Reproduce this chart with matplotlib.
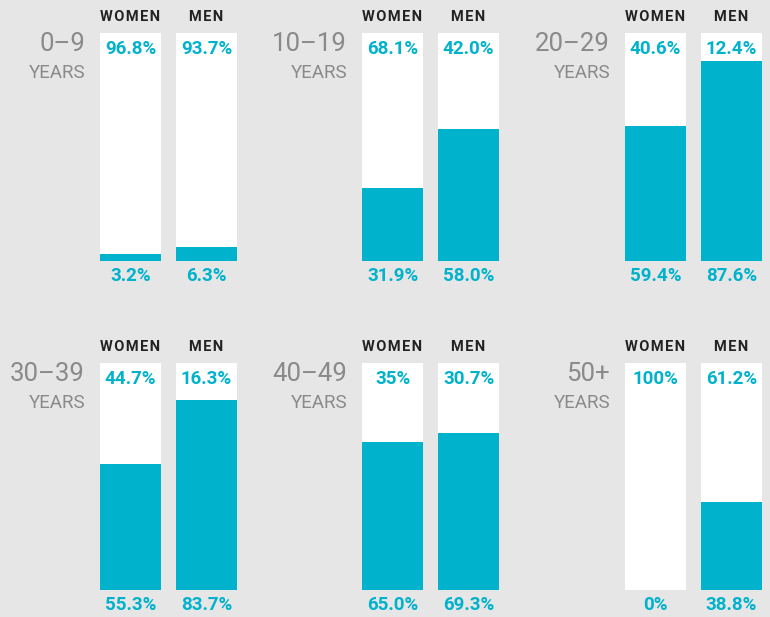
import matplotlib.pyplot as plt

# age groups and share of each group (bottom, teal part) for women and men
ages = ['0–9', '10–19', '20–29', '30–39', '40–49', '50+']
women_share = [3.2, 31.9, 59.4, 55.3, 65.0, 0]
men_share = [6.3, 58.0, 87.6, 83.7, 69.3, 38.8]
women_top = ['96.8%', '68.1%', '40.6%', '44.7%', '35%', '100%']
women_bottom = ['3.2%', '31.9%', '59.4%', '55.3%', '65.0%', '0%']
men_top = ['93.7%', '42.0%', '12.4%', '16.3%', '30.7%', '61.2%']
men_bottom = ['6.3%', '58.0%', '87.6%', '83.7%', '69.3%', '38.8%']
headers = ['WOMEN', 'MEN']

teal = '#00b2cc'
bg = '#e6e6e6'
W, H = 770, 617

plt.rcParams['font.family'] = ['Roboto', 'DejaVu Sans']

fig = plt.figure(figsize=(W / 100, H / 100), dpi=100, facecolor=bg)

col_left = [100, 362, 625]
row_top = [33, 363]
row_bottom = [261, 590]
bar_w = 61 / 76
xl = 30.5 / 76

for i, age in enumerate(ages):
    r, c = divmod(i, 3)
    top, bot = row_top[r], row_bottom[r]
    ax = fig.add_axes([col_left[c] / W, 1 - bot / H, 137 / W, (bot - top) / H])
    ax.set_facecolor(bg)
    ax.bar([0, 1], [100, 100], width=bar_w, color='white')
    ax.bar([0, 1], [women_share[i], men_share[i]], width=bar_w, color=teal)
    ax.set_xlim(-xl, 1 + xl)
    ax.set_ylim(0, 100)
    ax.axis('off')

    tops = [women_top[i], men_top[i]]
    bots = [women_bottom[i], men_bottom[i]]
    for j in range(2):
        # a little letter spacing in the column headers
        ax.annotate('\u200a'.join(headers[j]), (j, 100), xytext=(0, 16), textcoords='offset pixels',
                    ha='center', va='center', fontsize=10.5, fontweight='bold', color='#222222')
        ax.annotate(tops[j], (j, 100), xytext=(0, -16), textcoords='offset pixels',
                    ha='center', va='center', fontsize=13.5, fontweight='bold', color=teal)
        ax.annotate(bots[j], (j, 0), xytext=(0, -15), textcoords='offset pixels',
                    ha='center', va='center', fontsize=13.5, fontweight='bold', color=teal)

    ax.annotate(age, (0, 1), xycoords='axes fraction', xytext=(-15, -11), textcoords='offset pixels',
                ha='right', va='center', fontsize=18.5, fontweight='normal', color='#8a8a8a')
    ax.annotate('YEARS', (0, 1), xycoords='axes fraction', xytext=(-15, -40), textcoords='offset pixels',
                ha='right', va='center', fontsize=13.5, color='#8a8a8a')

fig.savefig('out.png', dpi=100, facecolor=bg)
